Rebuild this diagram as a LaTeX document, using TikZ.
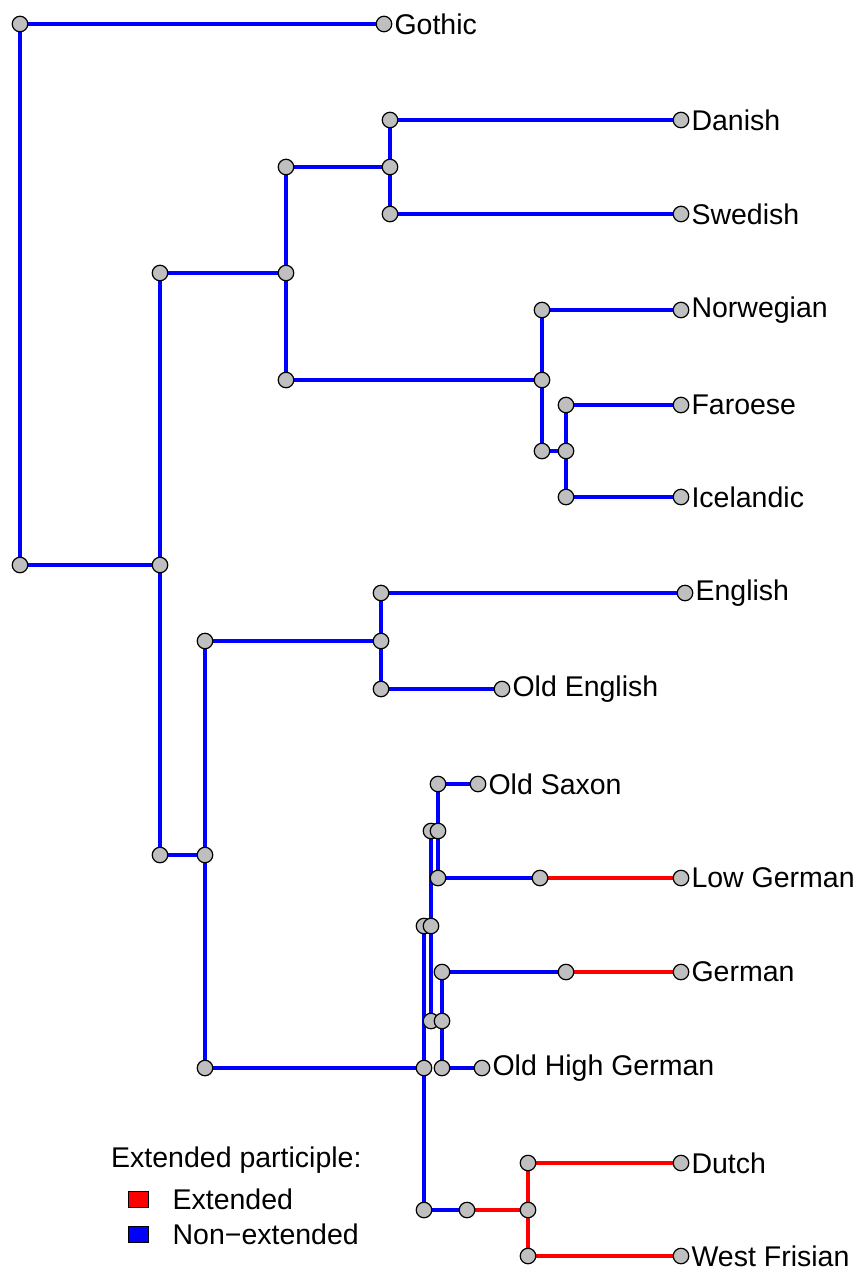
\documentclass[tikz,border=0pt]{standalone}
\usepackage{fontspec}
\setmainfont{Liberation Sans}
\usetikzlibrary{positioning,backgrounds}

\begin{document}
\begin{tikzpicture}[x=1pt,y=-1pt,
  dot/.style={circle, draw=black, fill=gray!50, line width=1.2pt, minimum size=15.5pt, inner sep=0pt},
  leaf/.style={dot, label={[lbl, label distance=1pt]right:#1}},
  lbl/.style={font=\fontsize{28.5}{32}\selectfont, inner sep=1pt, text=black},
  nonext/.style={blue, line width=3.4pt},
  ext/.style={red, line width=3.4pt},
  keybox/.style={draw=black, line width=0.8pt, minimum width=20pt, minimum height=16pt, inner sep=0pt}]
\useasboundingbox (0,0) rectangle (860,1270);

\node[dot] (gotC) at (20,24) {};
\node[leaf=Gothic] (gotT) at (384,24) {};
\node[dot] (rootC) at (20,565) {};
\node[dot] (gmc) at (160,565) {};

\node[dot] (ngC) at (160,273) {};
\node[dot] (ng) at (286,273) {};
\node[dot] (esC) at (286,167) {};
\node[dot] (es) at (390,167) {};
\node[dot] (danC) at (390,120) {};
\node[leaf=Danish] (danT) at (681,120) {};
\node[dot] (sweC) at (390,214) {};
\node[leaf=Swedish] (sweT) at (681,214) {};
\node[dot] (wsC) at (286,380) {};
\node[dot] (ws) at (542,380) {};
\node[dot] (norC) at (542,310) {};
\node[leaf=Norwegian] (norT) at (681,310) {};
\node[dot] (insC) at (542,451) {};
\node[dot] (ins) at (566,451) {};
\node[dot] (farC) at (566,405) {};
\node[leaf=Faroese] (farT) at (681,405) {};
\node[dot] (iceC) at (566,497) {};
\node[leaf=Icelandic] (iceT) at (681,497) {};

\node[dot] (wgC) at (160,855) {};
\node[dot] (wg) at (205,855) {};
\node[dot] (angC) at (205,641) {};
\node[dot] (ang) at (381,641) {};
\node[dot] (engC) at (381,593) {};
\node[leaf=English] (engT) at (685,593) {};
\node[dot] (oeC) at (381,689) {};
\node[leaf=Old English] (oeT) at (502,689) {};

\node[dot] (conC) at (205,1068) {};
\node[dot] (con) at (424,1068) {};
\node[dot] (dgC) at (424,926) {};
\node[dot] (dg) at (431,926) {};
\node[dot] (lgC) at (431,831) {};
\node[dot] (lg) at (438,831) {};
\node[dot] (osC) at (438,784) {};
\node[leaf=Old Saxon] (osT) at (478,784) {};
\node[dot] (lowC) at (438,878) {};
\node[dot] (lowM) at (540,878) {};
\node[leaf=Low German] (lowT) at (681,878) {};
\node[dot] (hgC) at (431,1021) {};
\node[dot] (hg) at (442,1021) {};
\node[dot] (gerC) at (442,972) {};
\node[dot] (gerM) at (566,972) {};
\node[leaf=German] (gerT) at (681,972) {};
\node[dot] (ohgC) at (442,1068) {};
\node[leaf=Old High German] (ohgT) at (482,1068) {};
\node[dot] (frC) at (424,1210) {};
\node[dot] (frM) at (467,1210) {};
\node[dot] (fr) at (528,1210) {};
\node[dot] (dutC) at (528,1163) {};
\node[leaf=Dutch] (dutT) at (681,1163) {};
\node[dot] (wfrC) at (528,1256) {};
\node[leaf=West Frisian] (wfrT) at (681,1256) {};

\begin{pgfonlayer}{background}
\draw[nonext] (gotT) -- (gotC) -- (rootC) -- (gmc);
\draw[nonext] (ngC) -- (gmc) -- (wgC);
\draw[nonext] (ngC) -- (ng);
\draw[nonext] (wgC) -- (wg);
\draw[nonext] (esC) -- (ng) -- (wsC);
\draw[nonext] (esC) -- (es);
\draw[nonext] (wsC) -- (ws);
\draw[nonext] (danC) -- (es) -- (sweC);
\draw[nonext] (danC) -- (danT);
\draw[nonext] (sweC) -- (sweT);
\draw[nonext] (norC) -- (ws) -- (insC);
\draw[nonext] (norC) -- (norT);
\draw[nonext] (insC) -- (ins);
\draw[nonext] (farC) -- (ins) -- (iceC);
\draw[nonext] (farC) -- (farT);
\draw[nonext] (iceC) -- (iceT);
\draw[nonext] (angC) -- (wg) -- (conC);
\draw[nonext] (angC) -- (ang);
\draw[nonext] (conC) -- (con);
\draw[nonext] (engC) -- (ang) -- (oeC);
\draw[nonext] (engC) -- (engT);
\draw[nonext] (oeC) -- (oeT);
\draw[nonext] (dgC) -- (con) -- (frC);
\draw[nonext] (dgC) -- (dg);
\draw[nonext] (frC) -- (frM);
\draw[ext] (frM) -- (fr);
\draw[nonext] (lgC) -- (dg) -- (hgC);
\draw[nonext] (lgC) -- (lg);
\draw[nonext] (hgC) -- (hg);
\draw[nonext] (osC) -- (lg) -- (lowC);
\draw[nonext] (osC) -- (osT);
\draw[nonext] (lowC) -- (lowM);
\draw[ext] (lowM) -- (lowT);
\draw[nonext] (gerC) -- (hg) -- (ohgC);
\draw[nonext] (gerC) -- (gerM);
\draw[ext] (gerM) -- (gerT);
\draw[nonext] (ohgC) -- (ohgT);
\draw[ext] (dutC) -- (fr) -- (wfrC);
\draw[ext] (dutC) -- (dutT);
\draw[ext] (wfrC) -- (wfrT);
\end{pgfonlayer}

\node[lbl, anchor=west] (keytitle) at (110,1160) {Extended participle:};
\node[keybox, fill=red] (keyExt) at (138,1199) {};
\node[keybox, fill=blue] (keyNon) at (138,1234) {};
\node[lbl, right=23pt of keyExt] {Extended};
\node[lbl, right=23pt of keyNon] {Non−extended};

\end{tikzpicture}
\end{document}
